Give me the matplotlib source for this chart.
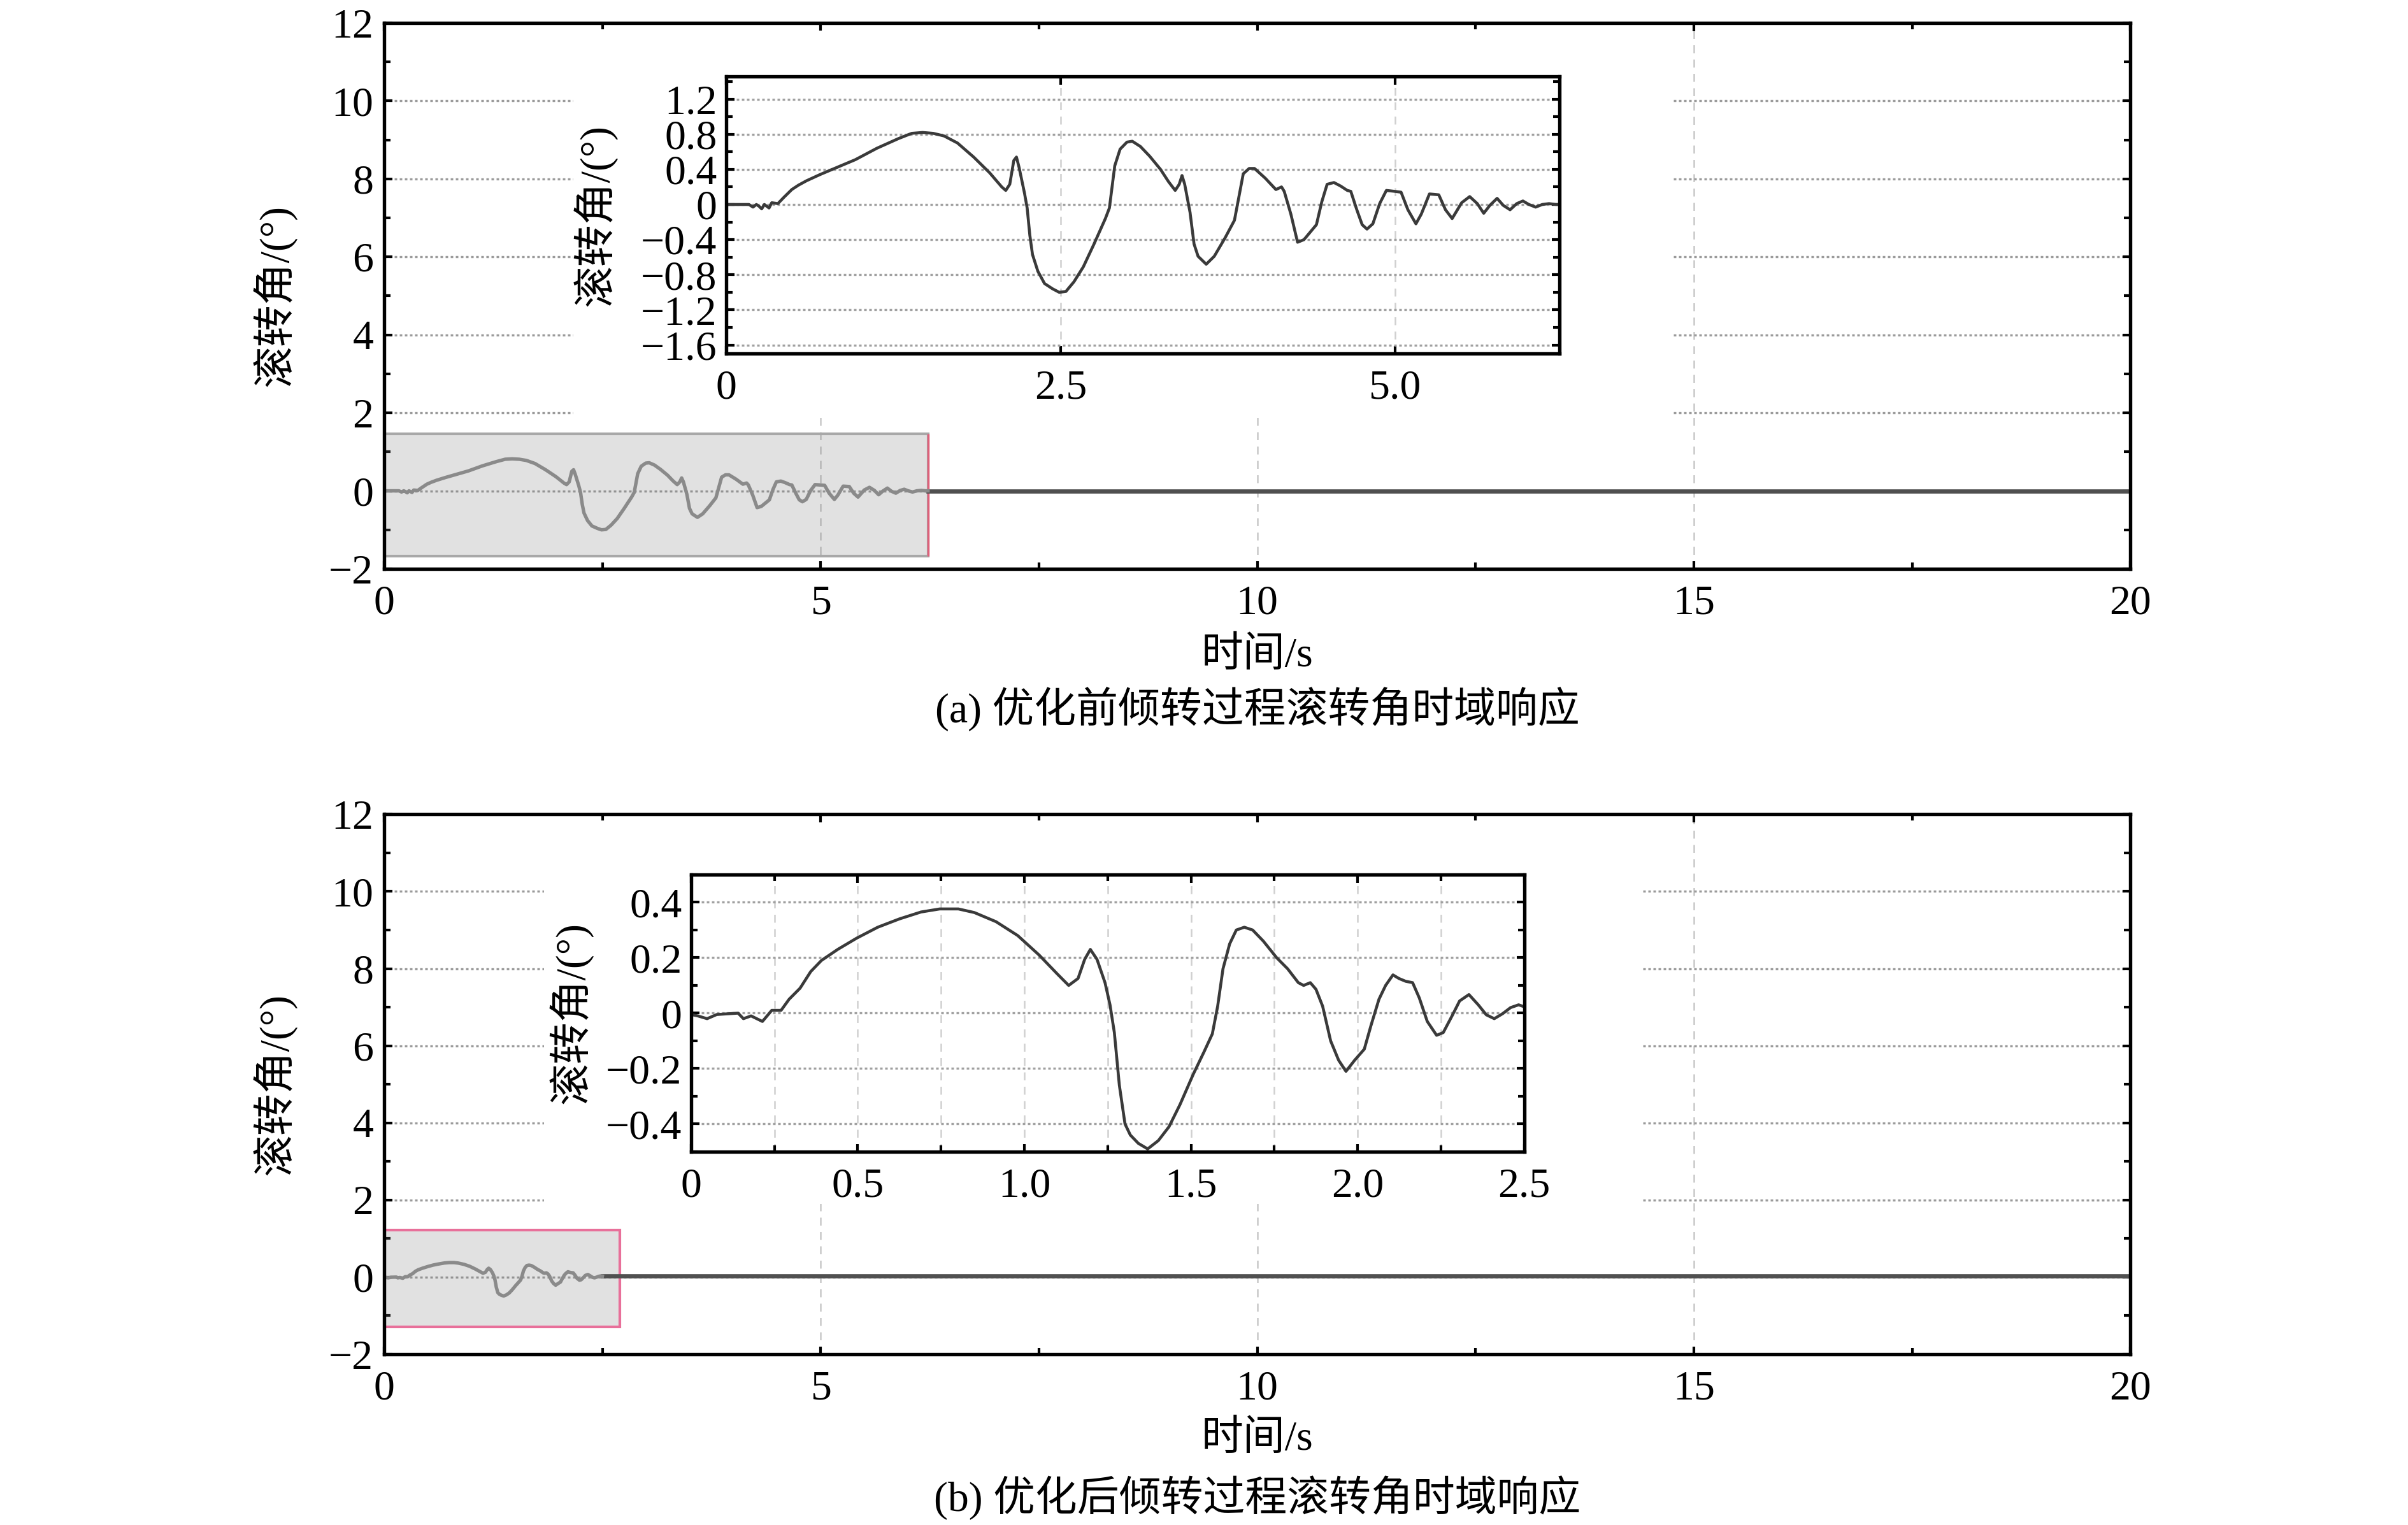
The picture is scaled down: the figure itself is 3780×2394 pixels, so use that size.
import matplotlib
matplotlib.use("Agg")
import matplotlib.pyplot as plt
from matplotlib.patches import Rectangle
from matplotlib.ticker import MultipleLocator, FixedLocator, FixedFormatter

plt.rcParams['font.family'] = ['Liberation Serif', 'Noto Sans CJK SC', 'DejaVu Sans']
plt.rcParams['axes.unicode_minus'] = True

# ---------------- data ----------------
t_a = [0, 0.17, 0.20, 0.225, 0.245, 0.265, 0.285, 0.32, 0.34, 0.386, 0.43, 0.49, 0.54, 0.60,
       0.70, 0.84, 0.965, 1.126, 1.287, 1.387, 1.468, 1.548, 1.629, 1.729, 1.85, 1.97, 2.06,
       2.09, 2.12, 2.15, 2.17, 2.19, 2.23, 2.25, 2.27, 2.29, 2.33, 2.38, 2.44, 2.49, 2.54, 2.60,
       2.67, 2.75, 2.835, 2.865, 2.905, 2.945, 2.996, 3.036, 3.097, 3.166, 3.247, 3.307, 3.357,
       3.387, 3.408, 3.428, 3.468, 3.498, 3.528, 3.589, 3.649, 3.73, 3.80, 3.83, 3.866, 3.91,
       3.95, 4.03, 4.11, 4.152, 4.172, 4.222, 4.272, 4.32, 4.413, 4.453, 4.493, 4.544, 4.594,
       4.644, 4.67, 4.715, 4.755, 4.791, 4.835, 4.886, 4.936, 4.996, 5.046, 5.097, 5.157, 5.197,
       5.258, 5.328, 5.378, 5.428, 5.499, 5.559, 5.616, 5.664, 5.71, 5.764, 5.81, 5.861, 5.911,
       5.957, 6.002, 6.052, 6.102, 6.152, 6.203, 6.23]
v_a = [0, 0, -0.03, 0, -0.02, -0.05, 0, -0.04, 0.02, 0.01, 0.08, 0.17, 0.22, 0.27,
       0.34, 0.43, 0.51, 0.64, 0.75, 0.81, 0.82, 0.81, 0.78, 0.70, 0.54, 0.36, 0.20,
       0.16, 0.23, 0.50, 0.54, 0.42, 0.13, -0.04, -0.35, -0.57, -0.76, -0.90, -0.96, -1.00, -0.99, -0.88,
       -0.71, -0.45, -0.16, -0.04, 0.44, 0.63, 0.71, 0.72, 0.66, 0.55, 0.40, 0.26, 0.16,
       0.23, 0.33, 0.23, -0.09, -0.45, -0.59, -0.68, -0.59, -0.38, -0.18, 0.06, 0.35, 0.41,
       0.41, 0.30, 0.17, 0.20, 0.15, -0.11, -0.43, -0.40, -0.23, 0.03, 0.23, 0.25, 0.21,
       0.16, 0.15, -0.06, -0.23, -0.28, -0.22, 0.01, 0.16, 0.15, 0.14, -0.06, -0.22, -0.11,
       0.12, 0.11, -0.06, -0.16, 0.02, 0.09, 0.01, -0.10, -0.01, 0.07, -0.01, -0.06, 0.01,
       0.04, 0.00, -0.03, 0.0, 0.01, 0, 0]

t_b = [0, 0.02, 0.048, 0.077, 0.141, 0.157, 0.18, 0.214, 0.242, 0.27, 0.294, 0.327, 0.359,
       0.391, 0.44, 0.496, 0.56, 0.625, 0.69, 0.746, 0.802, 0.85, 0.915, 0.98, 1.044, 1.1,
       1.133, 1.161, 1.181, 1.198, 1.218, 1.242, 1.257, 1.27, 1.285, 1.302, 1.318, 1.342, 1.37,
       1.402, 1.434, 1.467, 1.507, 1.539, 1.564, 1.58, 1.596, 1.616, 1.636, 1.66, 1.685, 1.717,
       1.757, 1.79, 1.822, 1.838, 1.858, 1.875, 1.895, 1.919, 1.943, 1.965, 1.991, 2.02, 2.04,
       2.064, 2.084, 2.106, 2.124, 2.144, 2.165, 2.185, 2.209, 2.237, 2.257, 2.285, 2.306, 2.334,
       2.362, 2.386, 2.41, 2.435, 2.459, 2.483, 2.50]
v_b = [-0.005, -0.01, -0.02, -0.005, 0, -0.02, -0.01, -0.03, 0.01, 0.01, 0.05, 0.09, 0.15,
       0.19, 0.23, 0.27, 0.31, 0.34, 0.365, 0.376, 0.376, 0.363, 0.33, 0.28, 0.21, 0.14,
       0.10, 0.125, 0.194, 0.23, 0.194, 0.11, 0.03, -0.07, -0.26, -0.40, -0.44, -0.47, -0.49,
       -0.46, -0.41, -0.33, -0.22, -0.14, -0.075, 0.025, 0.16, 0.25, 0.30, 0.31, 0.30, 0.26,
       0.20, 0.16, 0.11, 0.10, 0.11, 0.086, 0.025, -0.10, -0.17, -0.21, -0.17, -0.13, -0.045,
       0.05, 0.10, 0.138, 0.125, 0.115, 0.11, 0.055, -0.03, -0.08, -0.07, -0.006, 0.044, 0.067,
       0.03, -0.006, -0.02, -0.002, 0.02, 0.03, 0.023]

t_end = 20.0

# main axes ticks
main_xticks = [0, 5, 10, 15, 20]
main_yticks = [-2, 0, 2, 4, 6, 8, 10, 12]
main_ylabels = ['\u22122', '0', '2', '4', '6', '8', '10', '12']

# inset (a) ticks
ins_a_xticks = [0, 2.5, 5.0]
ins_a_xlabels = ['0', '2.5', '5.0']
ins_a_yticks = [-1.6, -1.2, -0.8, -0.4, 0, 0.4, 0.8, 1.2]
ins_a_ylabels = ['\u22121.6', '\u22121.2', '\u22120.8', '\u22120.4', '0', '0.4', '0.8', '1.2']
# inset (b) ticks
ins_b_xticks = [0, 0.5, 1.0, 1.5, 2.0, 2.5]
ins_b_xlabels = ['0', '0.5', '1.0', '1.5', '2.0', '2.5']
ins_b_yticks = [-0.4, -0.2, 0, 0.2, 0.4]
ins_b_ylabels = ['\u22120.4', '\u22120.2', '0', '0.2', '0.4']

# zoom rectangles (x0, x1, y0, y1)
rect_a = (0, 6.23, -1.68, 1.46)
rect_b = (0, 2.70, -1.29, 1.22)
# white area hiding grid behind insets (x0, x1, y0, y1)
mask_a = (2.17, 14.75, 1.9, 11.8)
mask_b = (1.83, 14.4, 1.9, 11.8)

ylabel = '滚转角/(°)'
xlabel = '时间/s'
cap_a = '(a) 优化前倾转过程滚转角时域响应'
cap_b = '(b) 优化后倾转过程滚转角时域响应'

FS = 15.8
fig = plt.figure(figsize=(12.6, 7.98), dpi=300)


def style_axes(ax, lw=1.3):
    for s in ax.spines.values():
        s.set_linewidth(lw)
        s.set_color('black')
    ax.tick_params(which='both', direction='in', top=True, right=True, labelsize=FS, width=1.0)
    ax.tick_params(which='major', length=3)
    ax.tick_params(which='minor', length=2.5)


def main_panel(rect, t, v, zr, mask, cap, xl_y, cap_y):
    ax = fig.add_axes(rect)
    ax.set_axisbelow(True)
    ax.set_xlim(0, 20)
    ax.set_ylim(-2, 12)
    ax.xaxis.set_major_locator(FixedLocator(main_xticks))
    ax.xaxis.set_minor_locator(MultipleLocator(2.5))
    ax.yaxis.set_major_locator(FixedLocator(main_yticks))
    ax.yaxis.set_major_formatter(FixedFormatter(main_ylabels))
    ax.yaxis.set_minor_locator(MultipleLocator(1))
    style_axes(ax)
    ax.grid(True, axis='y', which='major', linestyle=(0, (1.2, 1.2)), color='#9a9a9a', linewidth=0.8)
    ax.grid(True, axis='x', which='major', linestyle=(0, (5, 4)), color='#c8c8c8', linewidth=0.6)
    # white area behind inset
    ax.add_patch(Rectangle((mask[0], mask[2]), mask[1] - mask[0], mask[3] - mask[2],
                           facecolor='white', edgecolor='none', zorder=1))
    # zoom rectangle (translucent, grid shows through)
    x0, x1, y0, y1 = zr
    ax.add_patch(Rectangle((x0, y0), x1 - x0, y1 - y0, facecolor=(0.5, 0.5, 0.5, 0.23),
                           edgecolor=cap['edge'], linewidth=1.0, zorder=1.5))
    if cap['redright']:
        ax.vlines(x1, y0, y1, color='#e0607a', linewidth=0.8, zorder=1.6)
    ax.plot([t[-1], t_end], [v[-1], v[-1]], color='#505050', linewidth=1.6, zorder=2)
    ax.plot(t, v, color='#8a8a8a', linewidth=1.3, zorder=2.1)
    ax.set_ylabel(ylabel, fontsize=FS)
    ax.yaxis.set_label_coords(-0.05, 0.5)
    ax.tick_params(axis='x', pad=6)
    ax.tick_params(axis='y', pad=4)
    cx = rect[0] + rect[2] / 2
    fig.text(cx, xl_y, xlabel, ha='center', va='center', fontsize=FS)
    fig.text(cx, cap_y, cap['text'], ha='center', va='center', fontsize=FS)
    return ax


main_panel([0.1595, 0.627, 0.7252, 0.358], t_a, v_a, rect_a, mask_a,
           {'text': cap_a, 'edge': '#a8a8a8', 'redright': True}, 0.570, 0.535)
main_panel([0.1595, 0.112, 0.7252, 0.354], t_b, v_b, rect_b, mask_b,
           {'text': cap_b, 'edge': '#e8709a', 'redright': False}, 0.056, 0.018)

# inset (a)
ia = fig.add_axes([0.3016, 0.768, 0.346, 0.182])
ia.set_axisbelow(True)
ia.plot(t_a, v_a, color='#3a3a3a', linewidth=1.1)
ia.set_xlim(0, t_a[-1])
ia.set_ylim(-1.7, 1.46)
ia.xaxis.set_major_locator(FixedLocator(ins_a_xticks))
ia.xaxis.set_major_formatter(FixedFormatter(ins_a_xlabels))
ia.yaxis.set_major_locator(FixedLocator(ins_a_yticks))
ia.yaxis.set_major_formatter(FixedFormatter(ins_a_ylabels))
ia.yaxis.set_minor_locator(MultipleLocator(0.2))
style_axes(ia, 1.3)
ia.grid(True, axis='y', which='major', linestyle=(0, (1.2, 1.2)), color='#a0a0a0', linewidth=0.8)
ia.grid(True, axis='x', which='major', linestyle=(0, (5, 4)), color='#d0d0d0', linewidth=0.6)
ia.set_ylabel(ylabel, fontsize=FS)
ia.yaxis.set_label_coords(-0.131, 0.5)
ia.tick_params(axis='x', pad=6)

# inset (b)
ib = fig.add_axes([0.287, 0.2448, 0.346, 0.1817])
ib.set_axisbelow(True)
ib.plot(t_b, v_b, color='#3a3a3a', linewidth=1.1)
ib.set_xlim(0, 2.5)
ib.set_ylim(-0.5, 0.5)
ib.xaxis.set_major_locator(FixedLocator(ins_b_xticks))
ib.xaxis.set_major_formatter(FixedFormatter(ins_b_xlabels))
ib.xaxis.set_minor_locator(MultipleLocator(0.25))
ib.yaxis.set_major_locator(FixedLocator(ins_b_yticks))
ib.yaxis.set_major_formatter(FixedFormatter(ins_b_ylabels))
ib.yaxis.set_minor_locator(MultipleLocator(0.1))
style_axes(ib, 1.3)
ib.grid(True, axis='y', which='major', linestyle=(0, (1.2, 1.2)), color='#a0a0a0', linewidth=0.8)
ib.grid(True, axis='x', which='both', linestyle=(0, (5, 4)), color='#d0d0d0', linewidth=0.6)
ib.set_ylabel(ylabel, fontsize=FS)
ib.yaxis.set_label_coords(-0.118, 0.5)
ib.tick_params(axis='x', pad=6)

fig.savefig('out.png', dpi=300, facecolor='white')
